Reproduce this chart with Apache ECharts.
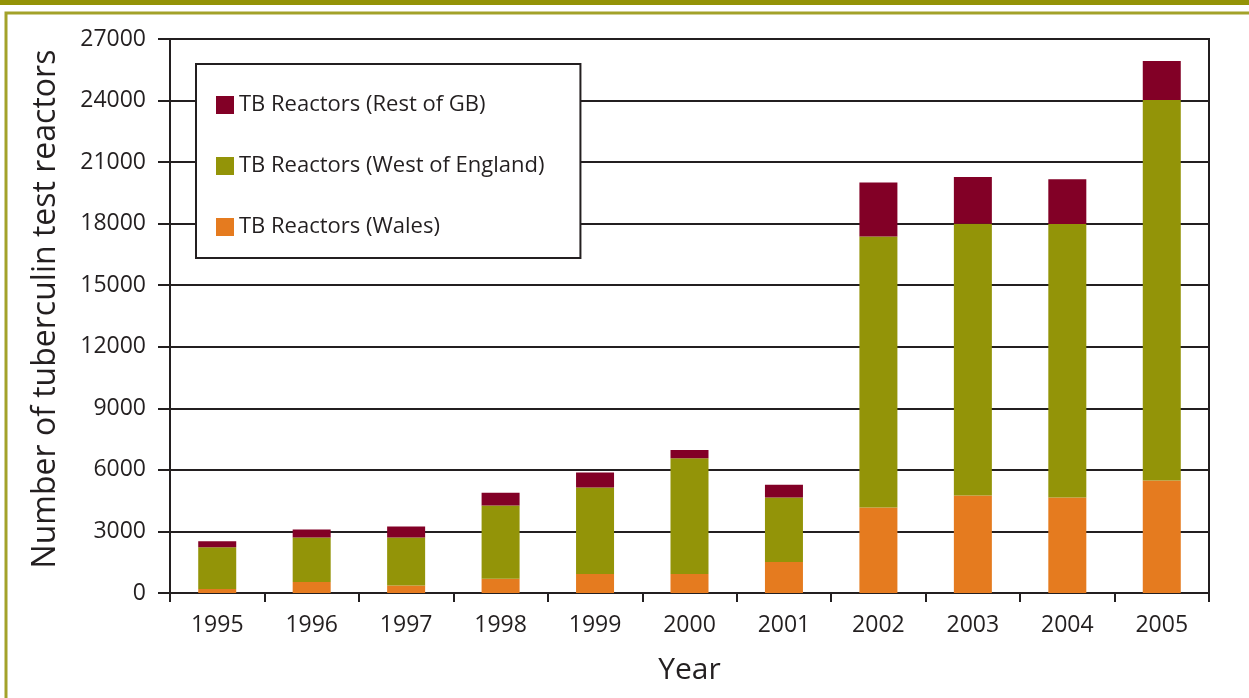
<!DOCTYPE html>
<html>
<head>
<meta charset="utf-8">
<script src="https://cdn.jsdelivr.net/npm/echarts@6/dist/echarts.min.js"></script>
<style>
html,body{margin:0;padding:0;background:#fff;}
#chart{width:1249px;height:698px;}
</style>
</head>
<body>
<div id="chart"></div>
<script>
var years = ['1995','1996','1997','1998','1999','2000','2001','2002','2003','2004','2005'];
var wales = [200, 540, 370, 690, 930, 930, 1510, 4170, 4750, 4650, 5480];
var westEngland = [2030, 2170, 2340, 3570, 4210, 5640, 3140, 13200, 13250, 13330, 18550];
var restGB = [290, 390, 530, 630, 730, 400, 630, 2640, 2280, 2190, 1900];
var seriesNames = ['TB Reactors (Wales)', 'TB Reactors (West of England)', 'TB Reactors (Rest of GB)'];
var legendOrder = ['TB Reactors (Rest of GB)', 'TB Reactors (West of England)', 'TB Reactors (Wales)'];
var yTicks = {min: 0, max: 27000, interval: 3000};

var FONT = '"Open Sans", "Noto Sans", sans-serif';
var INK = '#231f20';
var OLIVE = '#949307';

var chart = echarts.init(document.getElementById('chart'));
chart.setOption({
  animation: false,
  backgroundColor: '#ffffff',
  textStyle: {fontFamily: FONT, color: INK},
  graphic: [
    {type: 'rect', shape: {x: 0, y: 0, width: 1249, height: 5}, style: {fill: OLIVE}, z: 100},
    {type: 'rect', shape: {x: 6, y: 13, width: 1270, height: 720}, style: {fill: null, stroke: '#a3a22a', lineWidth: 3}, z: 100}
  ],
  grid: {left: 170, right: 40, top: 39, bottom: 105, show: true, borderColor: INK, borderWidth: 2, backgroundColor: 'transparent'},
  legend: {
    data: legendOrder,
    orient: 'vertical',
    left: 196, top: 64,
    padding: [30, 36, 20, 20],
    itemWidth: 18, itemHeight: 18,
    itemGap: 39,
    icon: 'rect',
    backgroundColor: '#ffffff',
    borderColor: INK, borderWidth: 2,
    textStyle: {fontFamily: FONT, fontSize: 22, color: INK},
    selectedMode: false
  },
  xAxis: {
    type: 'category',
    data: years,
    name: 'Year',
    nameLocation: 'middle',
    nameGap: 62,
    nameTextStyle: {fontFamily: FONT, fontSize: 30, color: INK},
    axisLine: {lineStyle: {color: INK, width: 2}},
    axisTick: {show: true, length: 9, lineStyle: {color: INK, width: 2}},
    axisLabel: {fontFamily: FONT, fontSize: 23, color: INK, margin: 21}
  },
  yAxis: {
    type: 'value',
    min: yTicks.min, max: yTicks.max, interval: yTicks.interval,
    name: 'Number of tuberculin test reactors',
    nameLocation: 'middle',
    nameGap: 108,
    nameTextStyle: {fontFamily: FONT, fontSize: 32, color: INK, padding: [0, 0, 0, 14]},
    axisLine: {show: true, lineStyle: {color: INK, width: 2}},
    axisTick: {show: true, length: 12, lineStyle: {color: INK, width: 2}},
    axisLabel: {fontFamily: FONT, fontSize: 23, color: INK, margin: 24, formatter: function (v) { return String(v); }},
    splitLine: {show: true, lineStyle: {color: INK, width: 2}}
  },
  series: [
    {name: seriesNames[0], type: 'bar', stack: 'tb', data: wales, barWidth: 38, itemStyle: {color: '#e57b1f'}},
    {name: seriesNames[1], type: 'bar', stack: 'tb', data: westEngland, barWidth: 38, itemStyle: {color: '#939408'}},
    {name: seriesNames[2], type: 'bar', stack: 'tb', data: restGB, barWidth: 38, itemStyle: {color: '#820026'}}
  ]
});
</script>
</body>
</html>
